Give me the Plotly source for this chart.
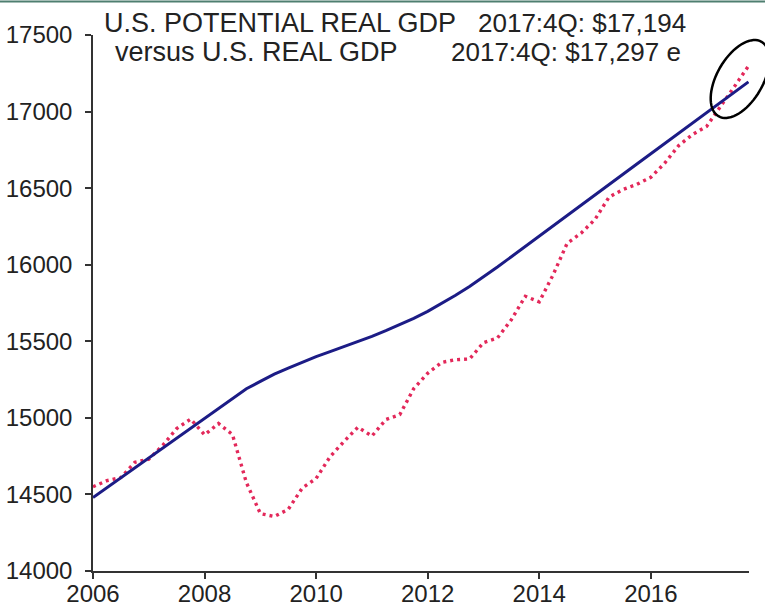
import numpy as np
import plotly.graph_objects as go

# ---------------- data ----------------
quarters = [f"{y}Q{q}" for y in range(2006, 2018) for q in range(1, 5)]

potential_gdp = [
    14480, 14545, 14610, 14675,
    14740, 14805, 14870, 14935,
    15000, 15065, 15130, 15190,
    15238, 15285, 15325, 15365,
    15400, 15432, 15464, 15497,
    15532, 15569, 15608, 15650,
    15695, 15745, 15800, 15858,
    15920, 15985, 16052, 16120,
    16187, 16254, 16321, 16388,
    16455, 16523, 16590, 16658,
    16725, 16792, 16859, 16926,
    16993, 17060, 17127, 17194,
]

real_gdp = [
    14550, 14590, 14610, 14710,
    14730, 14820, 14930, 14992,
    14889, 14963, 14891, 14577,
    14375, 14356, 14402, 14541,
    14604, 14746, 14846, 14939,
    14881, 14989, 15021, 15191,
    15291, 15362, 15380, 15384,
    15491, 15521, 15641, 15794,
    15757, 15935, 16140, 16206,
    16296, 16441, 16491, 16525,
    16571, 16664, 16778, 16851,
    16903, 17031, 17164, 17297,
]

x_ticks = [2006, 2008, 2010, 2012, 2014, 2016]
x_ticklabels = ["2006", "2008", "2010", "2012", "2014", "2016"]
y_ticks = [14000, 14500, 15000, 15500, 16000, 16500, 17000, 17500]
y_ticklabels = ["14000", "14500", "15000", "15500", "16000", "16500", "17000", "17500"]

title_pot = "U.S. POTENTIAL REAL GDP"
title_pot_val = "2017:4Q: $17,194"
title_real = "versus U.S. REAL GDP"
title_real_val = "2017:4Q: $17,297 e"

# quarter label -> decimal year position
x = [int(s[:4]) + (int(s[-1]) - 1) / 4 for s in quarters]

# ---------------- layout geometry ----------------
W, H = 765, 609
L, R, T, B = 93, 16, 35, 38
PW, PH = W - L - R, H - T - B


def px2paper(px, py):
    return (px - L) / PW, (H - B - py) / PH


FONT = "Liberation Sans, Arial, sans-serif"

fig = go.Figure()
fig.add_trace(go.Scatter(
    x=x, y=real_gdp, mode="lines",
    line=dict(color="#e3285a", width=3.4, dash="3px,4px"),
    name="U.S. Real GDP", showlegend=False,
))
fig.add_trace(go.Scatter(
    x=x, y=potential_gdp, mode="lines",
    line=dict(color="#1c1c86", width=3),
    name="U.S. Potential Real GDP", showlegend=False,
))

axis_common = dict(
    showgrid=False, zeroline=False, showline=True, linecolor="#333333",
    linewidth=1.5, ticks="outside", ticklen=6, tickwidth=1.5,
    tickcolor="#333333", automargin=False,
    tickfont=dict(size=24, family=FONT, color="#222222"),
)

fig.update_layout(
    width=W, height=H,
    margin=dict(l=L, r=R, t=T, b=B, pad=0, autoexpand=False),
    paper_bgcolor="white", plot_bgcolor="white",
    font=dict(family=FONT, color="#222222"),
    xaxis=dict(range=[2006, 2017.76], tickvals=x_ticks, ticktext=x_ticklabels,
               ticklabelstandoff=-6, **axis_common),
    yaxis=dict(range=[14000, 17500], tickvals=y_ticks, ticktext=y_ticklabels,
               ticklabelstandoff=8, **axis_common),
)

# title texts
for txt, px, py, size in [
    (title_pot, 102, 23, 27),
    (title_pot_val, 476, 23, 26),
    (title_real, 113, 52, 27),
    (title_real_val, 449, 52, 26),
]:
    xp, yp = px2paper(px, py)
    fig.add_annotation(
        text=txt, xref="paper", yref="paper", x=xp, y=yp,
        xanchor="left", yanchor="middle", showarrow=False,
        font=dict(size=size, family=FONT, color="#222222"),
    )

# rotated ellipse highlight
cx, cy, a, b, ang = 740, 79, 43, 23, np.deg2rad(60)
t = np.linspace(0, 2 * np.pi, 73)
ex = cx + a * np.cos(t) * np.cos(ang) + b * np.sin(t) * np.sin(ang)
ey = cy - a * np.cos(t) * np.sin(ang) + b * np.sin(t) * np.cos(ang)
pts = [px2paper(u, v) for u, v in zip(ex, ey)]
path = "M " + " L ".join(f"{u:.5f},{v:.5f}" for u, v in pts) + " Z"
fig.add_shape(type="path", path=path, xref="paper", yref="paper",
              line=dict(color="black", width=2.5))

# thin green frame line at the top
x0, ytop = px2paper(0, 1.5)
x1, _ = px2paper(W, 1.5)
fig.add_shape(type="line", xref="paper", yref="paper", x0=x0, x1=x1, y0=ytop, y1=ytop,
              line=dict(color="#4f7f70", width=2))

fig.write_html("out.html")
